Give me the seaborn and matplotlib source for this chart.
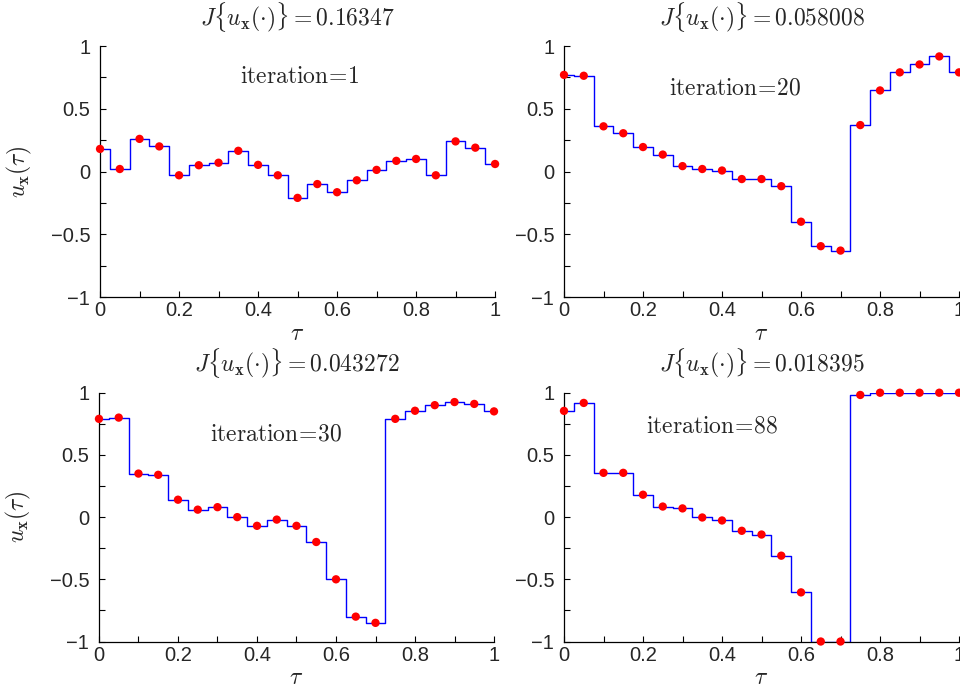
import numpy as np
import pandas as pd
import seaborn as sns
import matplotlib.pyplot as plt
from matplotlib.ticker import MultipleLocator, FuncFormatter

# sample instants (21 control parameters)
tau = [0.0, 0.05, 0.1, 0.15, 0.2, 0.25, 0.3, 0.35, 0.4, 0.45, 0.5,
       0.55, 0.6, 0.65, 0.7, 0.75, 0.8, 0.85, 0.9, 0.95, 1.0]

# control values
u_it1 = [0.18, 0.02, 0.26, 0.20, -0.03, 0.05, 0.07, 0.165, 0.053, -0.03, -0.21,
         -0.10, -0.165, -0.07, 0.013, 0.085, 0.10, -0.03, 0.24, 0.19, 0.06]
u_it20 = [0.77, 0.763, 0.36, 0.305, 0.195, 0.135, 0.043, 0.02, 0.008, -0.06, -0.06,
          -0.117, -0.40, -0.595, -0.63, 0.37, 0.646, 0.79, 0.853, 0.917, 0.79]
u_it30 = [0.79, 0.80, 0.35, 0.34, 0.14, 0.06, 0.08, 0.0, -0.07, -0.02, -0.07,
          -0.20, -0.50, -0.80, -0.85, 0.79, 0.855, 0.90, 0.925, 0.91, 0.85]
u_it88 = [0.854, 0.918, 0.356, 0.356, 0.18, 0.085, 0.07, -0.003, -0.027, -0.11, -0.14,
          -0.31, -0.605, -1.0, -1.0, 0.982, 1.0, 1.0, 1.0, 1.0, 1.0]

iterations = [1, 20, 30, 88]
costs = ['0.16347', '0.058008', '0.043272', '0.018395']
series = [u_it1, u_it20, u_it30, u_it88]

# where the "iteration=" note sits in data coords
note_pos = [(0.506, 0.75), (0.433, 0.66), (0.448, 0.667), (0.375, 0.73)]

sns.set_style('ticks')
plt.rcParams['font.family'] = ['Liberation Sans', 'DejaVu Sans']
plt.rcParams['mathtext.fontset'] = 'cm'
plt.rcParams['xtick.direction'] = 'in'
plt.rcParams['ytick.direction'] = 'in'

fig = plt.figure(figsize=(9.6, 6.93), dpi=100)
boxes = [[0.1042, 0.5714, 0.4115, 0.3622],
         [0.5875, 0.5714, 0.4115, 0.3622],
         [0.1031, 0.0743, 0.4115, 0.3590],
         [0.5875, 0.0743, 0.4115, 0.3590]]

fmt = FuncFormatter(lambda v, p: ('%g' % v).replace('-', '\u2212'))

for i, (box, u) in enumerate(zip(boxes, series)):
    ax = fig.add_axes(box)
    df = pd.DataFrame({'tau': tau, 'u': u})
    sns.lineplot(data=df, x='tau', y='u', ax=ax, color='#0000ff', lw=1.0,
                 drawstyle='steps-mid', zorder=2)
    sns.scatterplot(data=df, x='tau', y='u', ax=ax, color='#ff0000', s=36,
                    edgecolor='none', zorder=3, clip_on=False)
    ax.set_xlim(0, 1)
    ax.set_ylim(-1, 1)
    ax.xaxis.set_major_locator(MultipleLocator(0.2))
    ax.xaxis.set_minor_locator(MultipleLocator(0.1))
    ax.yaxis.set_major_locator(MultipleLocator(0.5))
    ax.yaxis.set_minor_locator(MultipleLocator(0.25))
    ax.xaxis.set_major_formatter(fmt)
    ax.yaxis.set_major_formatter(fmt)
    ax.tick_params(which='both', length=4, width=0.8, labelsize=14.5, color='black')
    ax.tick_params(axis='x', pad=3)
    ax.tick_params(axis='y', pad=7)
    sns.despine(ax=ax)
    for s in ['left', 'bottom']:
        ax.spines[s].set_linewidth(0.9)
        ax.spines[s].set_color('black')
    ax.set_xlabel(r'$\tau$', fontsize=17, labelpad=2)
    if i % 2 == 0:
        ax.set_ylabel(r'$u_{\mathbf{x}}(\tau)$', fontsize=17, labelpad=12)
    else:
        ax.set_ylabel('')
    ax.set_title(r'$J\{u_{\mathbf{x}}(\cdot)\} = %s$' % costs[i], fontsize=17, pad=15)
    nx, ny = note_pos[i]
    ax.text(nx, ny, r'$\mathrm{iteration}\!=\!%d$' % iterations[i], fontsize=17,
            ha='center', va='center')

fig.savefig('out.png', dpi=100)
